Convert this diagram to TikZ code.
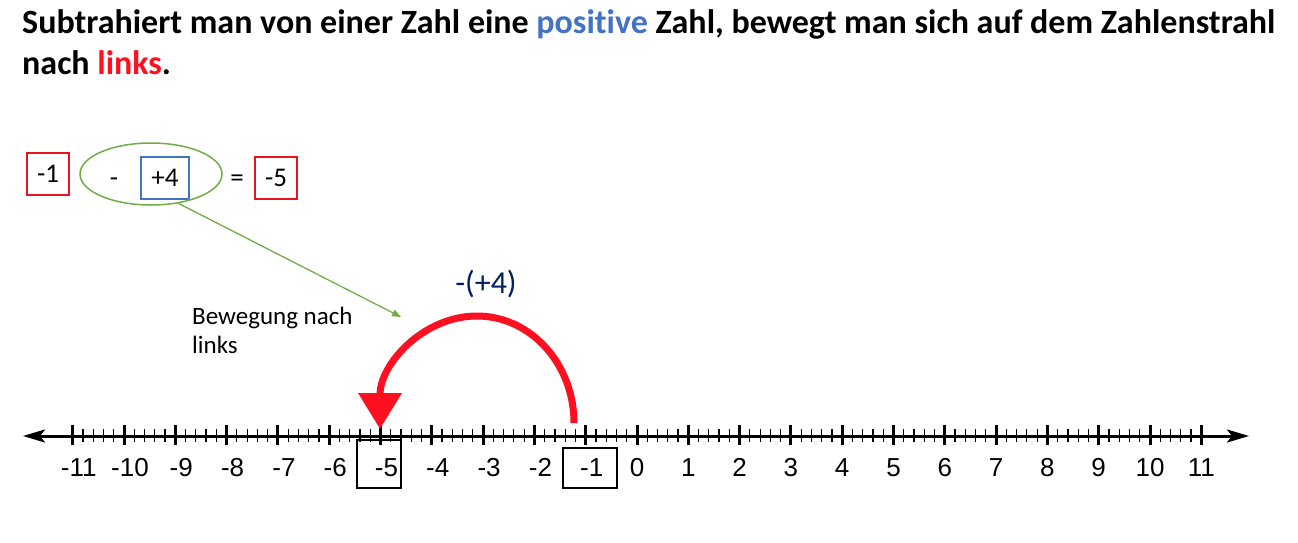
\documentclass[tikz,border=0pt]{standalone}
\usepackage{fontspec}
\setmainfont{Carlito}[Ligatures = CommonOff]
\newfontfamily\arialfont{Liberation Sans}
\usetikzlibrary{arrows.meta,shapes.geometric}
\definecolor{boxred}{RGB}{232,20,31}
\definecolor{boxblue}{RGB}{68,114,196}
\definecolor{leafgreen}{RGB}{112,173,71}
\definecolor{jumpred}{RGB}{255,16,32}
\definecolor{navy}{RGB}{0,32,96}
\tikzset{
  headline/.style = {anchor = base west, inner sep = 0pt, font = \bfseries\fontsize{34}{41}\selectfont},
  numbox/.style = {draw, line width = 1.5pt, minimum width = 42pt, minimum height = 42pt, inner sep = 0pt, text height = 17pt, text depth = 0pt, font = \fontsize{27}{30}\selectfont},
  plain/.style = {inner sep = 0pt, font = \fontsize{25}{30}\selectfont},
  sign/.style = {inner sep = 0pt, text height = 17pt, text depth = 0pt, font = \fontsize{27}{30}\selectfont},
  ticklabel/.style = {inner sep = 0pt, text height = 19pt, text depth = 0pt, font = \arialfont\fontsize{26}{30}\selectfont},
  markbox/.style = {draw, line width = 1.5pt, inner sep = 0pt},
  majortick/.style = {line width = 3pt},
  minortick/.style = {line width = 1.2pt},
  jump/.style = {draw = jumpred, line width = 7pt, -{Triangle[length = 36pt, width = 42pt]}, shorten > = -6pt}
}
\begin{document}
\begin{tikzpicture}[x = 1pt, y = -1pt]
\useasboundingbox (0,0) rectangle (1298,542);
\pgfmathsetmacro\zero{637}
\pgfmathsetmacro\unit{51.3}
\pgfmathsetmacro\axisy{436}
\node[headline] (title1) at (22,33) {Subtrahiert man von einer Zahl eine \textcolor{boxblue}{positive} Zahl, bewegt man sich auf dem Zahlenstrahl};
\node[headline] (title2) at (22,74) {nach \textcolor{jumpred}{links}.};
\node[numbox, draw = boxred] (lhs) at (48,174) {-1};
\node[sign] (minus) at (114,178) {-};
\node[numbox, draw = boxblue, minimum width = 48pt] (sub) at (165,178) {+4};
\node[sign] (equals) at (237,178) {=};
\node[numbox, draw = boxred] (res) at (276,178) {-5};
\node[ellipse, draw = leafgreen, line width = 1.5pt, minimum width = 142pt, minimum height = 62pt] (group) at (151,174) {};
\coordinate (aim) at (401,317);
\draw[leafgreen, line width = 1.3pt, -{Triangle[length = 9pt, width = 7pt]}] (group.-47) -- (aim);
\node[plain, anchor = north west, align = left, font = \fontsize{25}{29}\selectfont] (note) at (192,307) {Bewegung nach\\links};
\coordinate (west) at (23,\axisy);
\coordinate (east) at (1249,\axisy);
\draw[line width = 3pt, {Stealth[length = 22pt, width = 13pt, inset = 5pt]}-{Stealth[length = 22pt, width = 13pt, inset = 5pt]}] (west) -- (east);
\foreach \m in {0,...,110} \draw[minortick] ({\zero+\unit*(\m/5-11)},429) -- ++(0,13);
\foreach \n in {-11,...,11} {
  \draw[majortick] ({\zero+\unit*\n},425) -- ++(0,20);
  \pgfmathsetmacro\shift{\n<0 ? 6 : 0}
  \node[ticklabel] (l\n) at ({\zero+\unit*\n+\shift},467) {\n};
}
\node[markbox, minimum width = 44pt, minimum height = 48pt] (mark5) at (379,464) {};
\node[markbox, minimum width = 54pt, minimum height = 40pt] (mark1) at (590,468) {};
\coordinate (start) at (574,423);
\draw[jump] (start) arc[start angle = 0, end angle = -180, x radius = 97, y radius = 107];
\node[plain, text = navy, font = \fontsize{32}{36}\selectfont] (step4) at (486,284) {-(+4)};
\end{tikzpicture}
\end{document}
